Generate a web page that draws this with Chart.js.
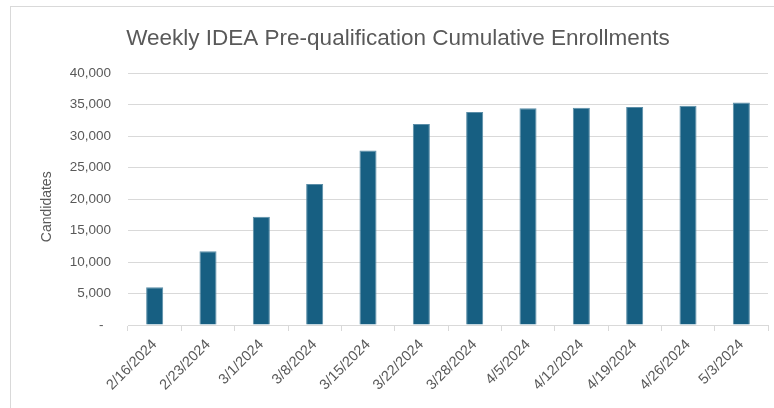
<!DOCTYPE html>
<html>
<head>
<meta charset="utf-8">
<script src="https://cdn.jsdelivr.net/npm/chart.js@4.4.1/dist/chart.umd.min.js"></script>
<style>
  body { margin: 0; background: #fff; overflow: hidden; }
  #frame { position: absolute; left: 10px; top: 6px; width: 820px; height: 440px; border: 1px solid #d9d9d9; }
  #c { position: absolute; left: 0; top: 0; }
</style>
</head>
<body>
<div id="frame"><canvas id="c" width="774" height="401"></canvas></div>
<script>
// fechas de corte semanales (eje X)
const weeks = ['2/16/2024', '2/23/2024', '3/1/2024', '3/8/2024', '3/15/2024', '3/22/2024',
               '3/28/2024', '4/5/2024', '4/12/2024', '4/19/2024', '4/26/2024', '5/3/2024'];
// inscripciones acumuladas
const enrollments = [6000, 11700, 17200, 22400, 27700, 31900, 33800, 34400, 34500, 34600, 34800, 35300];
// etiquetas del eje Y (formato contable de Excel, el cero es un guion)
const yTickLabels = ['-  ', '5,000', '10,000', '15,000', '20,000', '25,000', '30,000', '35,000', '40,000'];

const grey = '#595959';
const gridGrey = '#d9d9d9';

new Chart(document.getElementById('c'), {
  type: 'bar',
  data: {
    labels: weeks,
    datasets: [{
      label: 'Candidates',
      data: enrollments,
      backgroundColor: '#175f82',
      borderColor: '#5b8ea8',
      borderWidth: { top: 1, left: 1, right: 1, bottom: 0 },
      barPercentage: 0.64,
      categoryPercentage: 0.5,
    }],
  },
  options: {
    responsive: false,
    devicePixelRatio: 1,
    animation: false,
    layout: { padding: 0 },
    plugins: {
      legend: { display: false },
      tooltip: { enabled: false },
      title: {
        display: true,
        text: 'Weekly IDEA Pre-qualification Cumulative Enrollments',
        color: grey,
        font: { family: 'Liberation Sans', size: 22.5, weight: 'normal' },
        padding: { top: 18, bottom: 21 },
      },
    },
    scales: {
      x: {
        grid: { display: true, drawOnChartArea: false, color: gridGrey, tickLength: 6, offset: true },
        border: { display: true, color: gridGrey },
        ticks: {
          color: grey,
          font: { family: 'Liberation Sans', size: 14.5 },
          maxRotation: 45,
          minRotation: 45,
          autoSkip: false,
          padding: 5,
        },
        afterFit: (scale) => { scale.height = 83; },
      },
      y: {
        min: 0,
        max: 40000,
        grid: { color: gridGrey, drawTicks: false },
        border: { display: false },
        ticks: {
          stepSize: 5000,
          color: grey,
          padding: 17,
          font: { family: 'Liberation Sans', size: 13.5 },
          callback: (value) => yTickLabels[value / 5000],
        },
        title: {
          display: true,
          text: 'Candidates    ',
          color: grey,
          font: { family: 'Liberation Sans', size: 14 },
          padding: { top: 28, bottom: 0 },
        },
        afterFit: (scale) => { scale.width = 117; },
      },
      y2: {
        position: 'right',
        display: true,
        grid: { display: false },
        border: { display: false },
        ticks: { display: false },
        afterFit: (scale) => { scale.width = 17; },
      },
    },
  },
});
</script>
</body>
</html>
